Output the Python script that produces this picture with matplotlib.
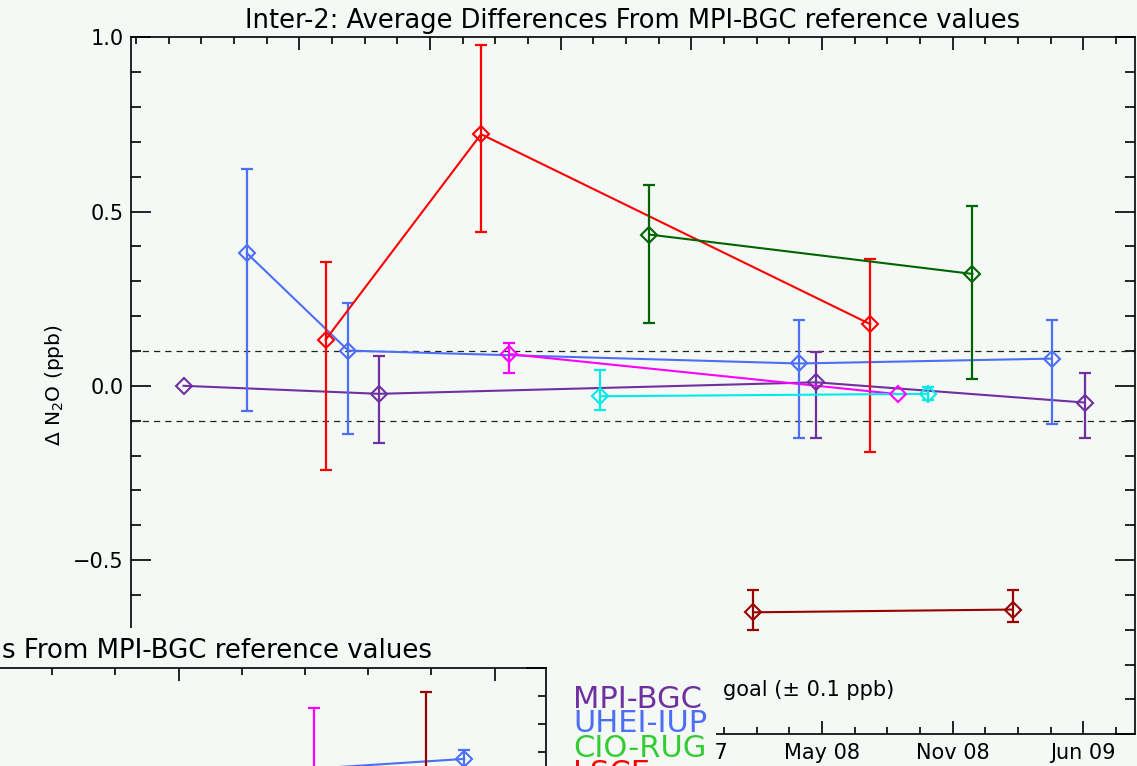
import matplotlib
matplotlib.use("Agg")
import matplotlib.pyplot as plt
import matplotlib.dates as mdates
from matplotlib.patches import Rectangle
from matplotlib.ticker import MultipleLocator
import numpy as np
import pandas as pd

W, H = 1137, 766
BG = "#f4f9f6"

# ---- main panel: date, mean difference, lower / upper end of the bar (ppb) ----
mpi_dates = ["2005-12-13", "2006-09-14", "2008-05-22", "2009-06-04"]
mpi_val = [0.000, -0.023, 0.010, -0.048]
mpi_lo = [None, -0.164, -0.150, -0.150]
mpi_hi = [None, 0.086, 0.098, 0.038]

uhei_dates = ["2006-03-12", "2006-08-02", "2008-04-28", "2009-04-19"]
uhei_val = [0.381, 0.101, 0.064, 0.078]
uhei_lo = [-0.071, -0.139, -0.150, -0.109]
uhei_hi = [0.622, 0.237, 0.188, 0.188]

lsce_dates = ["2006-07-01", "2007-02-05", "2008-08-06"]
lsce_val = [0.132, 0.722, 0.177]
lsce_lo = [-0.243, 0.442, -0.189]
lsce_hi = [0.355, 0.978, 0.364]

mag_dates = ["2007-03-17", "2008-09-14"]
mag_val = [0.091, -0.024]
mag_lo = [0.038, None]
mag_hi = [0.124, None]

cyan_dates = ["2007-07-23", "2008-10-27"]
cyan_val = [-0.030, -0.023]
cyan_lo = [-0.070, -0.040]
cyan_hi = [0.044, -0.003]

dgreen_dates = ["2007-09-30", "2008-12-28"]
dgreen_val = [0.434, 0.321]
dgreen_lo = [0.180, 0.019]
dgreen_hi = [0.575, 0.515]

maroon_dates = ["2008-02-23", "2009-02-23"]
maroon_val = [-0.650, -0.642]
maroon_lo = [-0.701, -0.678]
maroon_hi = [-0.587, -0.587]

goal = 0.1

# ---- second (overlapping) panel, decimal years ----
ov_uhei_x = [2007.95, 2008.904]
ov_uhei_val = [0.605, 0.675]
ov_uhei_lo = [0.575, 0.643]
ov_uhei_hi = [0.635, 0.707]
ov_mag_x = [2008.429]
ov_mag_val = [0.55]
ov_mag_lo = [0.25]
ov_mag_hi = [0.857]
ov_maroon_x = [2008.782]
ov_maroon_val = [0.58]
ov_maroon_lo = [0.25]
ov_maroon_hi = [0.914]

legend_names = ["MPI-BGC", "UHEI-IUP", "CIO-RUG", "LSCE"]
legend_colors = ["#7030a0", "#4d6ff5", "#33cc33", "#ff0000"]


def fx(x):
    return x / W


def fy(y):
    return 1 - y / H


def to_err(val, lo, hi):
    val = np.array(val, dtype=float)
    lo = np.array([np.nan if v is None else v for v in lo], dtype=float)
    hi = np.array([np.nan if v is None else v for v in hi], dtype=float)
    return np.vstack([val - lo, hi - val])


def series(ax, x, val, lo, hi, color):
    ax.plot(x, val, "-", color=color, lw=1.5, zorder=3)
    ax.plot(x, val, "D", ms=8, mfc="none", mec=color, mew=1.5, zorder=4)
    ax.errorbar(x, val, yerr=to_err(val, lo, hi), fmt="none", ecolor=color,
                elinewidth=1.6, capsize=4.2, capthick=1.6, zorder=3)


fig = plt.figure(figsize=(W / 100, H / 100), dpi=100, facecolor=BG)

ax = fig.add_axes([fx(131), fy(734.3), (1135 - 131) / W, (734.3 - 37.3) / H])
ax.set_facecolor(BG)

x_left, x_right = pd.Timestamp("2005-09-30"), pd.Timestamp("2009-08-14")
ax.axhline(goal, color="#222222", lw=0.9, ls=(0, (5, 4)), zorder=2)
ax.axhline(-goal, color="#222222", lw=0.9, ls=(0, (5, 4)), zorder=2)

series(ax, pd.to_datetime(mpi_dates), mpi_val, mpi_lo, mpi_hi, "#7030a0")
series(ax, pd.to_datetime(uhei_dates), uhei_val, uhei_lo, uhei_hi, "#4d6ff5")
series(ax, pd.to_datetime(lsce_dates), lsce_val, lsce_lo, lsce_hi, "#ff0000")
series(ax, pd.to_datetime(mag_dates), mag_val, mag_lo, mag_hi, "#ff00ff")
series(ax, pd.to_datetime(cyan_dates), cyan_val, cyan_lo, cyan_hi, "#00eaea")
series(ax, pd.to_datetime(dgreen_dates), dgreen_val, dgreen_lo, dgreen_hi, "#006400")
series(ax, pd.to_datetime(maroon_dates), maroon_val, maroon_lo, maroon_hi, "#990000")

ax.set_xlim(x_left, x_right)
ax.set_ylim(-1.0, 1.0)
majors = pd.date_range("2006-05-25", periods=7, freq="184D")
minors = pd.date_range("2005-10-07", x_right, freq="46D")
ax.set_xticks(majors)
ax.set_xticks(minors, minor=True)
ax.xaxis.set_major_formatter(mdates.DateFormatter("%b %y"))
ax.yaxis.set_major_locator(MultipleLocator(0.5))
ax.yaxis.set_minor_locator(MultipleLocator(0.1))
ax.tick_params(axis="both", which="both", direction="in", top=True, right=True,
               width=1.2, colors="black", labelsize=15)
ax.tick_params(axis="x", which="major", length=9.5, pad=6)
ax.tick_params(axis="x", which="minor", length=4.7)
ax.tick_params(axis="y", which="major", length=14.5, pad=5.5)
ax.tick_params(axis="y", which="minor", length=7.5)
for s in ax.spines.values():
    s.set_linewidth(1.2)
ax.set_title("Inter-2: Average Differences From MPI-BGC reference values",
             fontsize=18.5, pad=6.5)

fig.text(fx(55), fy(385), "Δ N$_2$O (ppb)", rotation=90, ha="center", va="center",
         fontsize=14.5)
fig.text(fx(723), fy(696), "goal (± 0.1 ppb)", fontsize=15, va="baseline")

# ---- overlapping second plot in the lower left ----
fig.patches.append(Rectangle((0, fy(766)), fx(716), (766 - 628) / H,
                             transform=fig.transFigure, facecolor=BG,
                             edgecolor="none", zorder=5))

ov = fig.add_axes([fx(-458), fy(1365.3), 1004 / W, 697 / H], zorder=6)
ov.set_facecolor("none")
series(ov, ov_uhei_x, ov_uhei_val, ov_uhei_lo, ov_uhei_hi, "#4d6ff5")
series(ov, ov_mag_x, ov_mag_val, ov_mag_lo, ov_mag_hi, "#ff00ff")
series(ov, ov_maroon_x, ov_maroon_val, ov_maroon_lo, ov_maroon_hi, "#990000")
ov.set_xlim(2005.985, 2009.163)
ov.set_ylim(-1.5, 1.0)
ov.xaxis.set_major_locator(MultipleLocator(1))
ov.xaxis.set_minor_locator(MultipleLocator(0.2))
ov.yaxis.set_major_locator(MultipleLocator(0.5))
ov.yaxis.set_minor_locator(MultipleLocator(0.1))
ov.tick_params(axis="both", which="both", direction="in", top=True, right=True,
               bottom=False, left=False, labelbottom=False, labelleft=False, width=1.2)
ov.tick_params(axis="x", which="major", length=9.5)
ov.tick_params(axis="x", which="minor", length=4.7)
ov.tick_params(axis="y", which="major", length=14.5)
ov.tick_params(axis="y", which="minor", length=6)
for side in ["left", "bottom"]:
    ov.spines[side].set_visible(False)
for side in ["top", "right"]:
    ov.spines[side].set_linewidth(1.2)

fig.text(fx(2), fy(658), "s From MPI-BGC reference values", fontsize=18.7,
         va="baseline", zorder=7)
for i, (name, col) in enumerate(zip(legend_names, legend_colors)):
    fig.text(fx(573), fy(708 + 24.5 * i), name, color=col, fontsize=22,
             va="baseline", zorder=7)

fig.savefig("out.png", dpi=100, facecolor=BG)
